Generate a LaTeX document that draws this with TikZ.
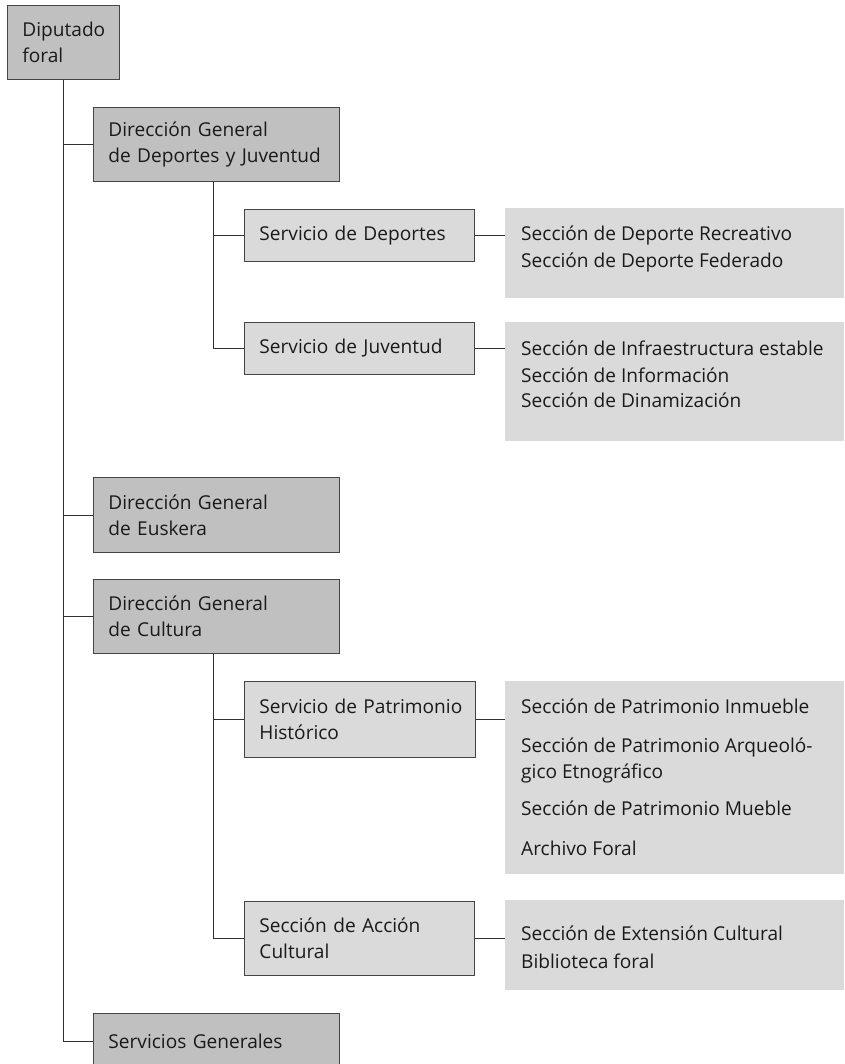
\documentclass[tikz,border=0pt]{standalone}
\usepackage{fontspec}
\setmainfont{Open Sans}
\definecolor{darkfill}{HTML}{C0C0C0}
\definecolor{lightfill}{HTML}{DADADA}
\definecolor{edge}{HTML}{454545}
\definecolor{wire}{HTML}{303030}
\definecolor{ink}{HTML}{1A1A1A}
\begin{document}
\begin{tikzpicture}[x=1pt,y=-1pt,
  font=\fontsize{19.1}{26}\selectfont,
  unit/.style={draw=edge, line width=0.9pt, anchor=north west, align=left,
    inner xsep=15pt, inner ysep=0pt, text=ink},
  dark/.style={unit, fill=darkfill},
  light/.style={unit, fill=lightfill},
  secbox/.style={fill=lightfill, draw=none, anchor=north west, inner sep=0pt},
  item/.style={anchor=base west, inner sep=0pt, text=ink, align=left},
  link/.style={draw=wire, line width=0.9pt}]
\useasboundingbox (0,0) rectangle (844,1064);

% top level
\node[dark, minimum width=112, minimum height=74, text width=82] (dip) at (7,5) {Diputado\\foral};

% direcciones generales
\node[dark, minimum width=246, minimum height=74, text width=216] (dgdep) at (93,107) {Dirección General\\de Deportes y Juventud};
\node[dark, minimum width=246, minimum height=75, text width=216] (dgeus) at (93,477) {Dirección General\\de Euskera};
\node[dark, minimum width=246, minimum height=74, text width=216] (dgcul) at (93,579) {Dirección General\\de Cultura};
\node[dark, minimum width=246, minimum height=56, text width=216] (sgen) at (93,1013) {Servicios Generales};

% servicios
\node[light, minimum width=230, minimum height=52, text width=200] (sdep) at (244,209) {Servicio de Deportes};
\node[light, minimum width=230, minimum height=52, text width=200] (sjuv) at (244,322) {Servicio de Juventud};
\node[light, minimum width=231, minimum height=76, text width=201] (spat) at (244,681) {\mbox{Servicio de Patrimonio}\\Histórico};
\node[light, minimum width=230, minimum height=74, text width=200] (sacc) at (244,901) {Sección de Acción\\Cultural};

% secciones
\node[secbox, minimum width=339, minimum height=90] (secdep) at (505,208) {};
\node[item] (d1) at (521,241) {Sección de Deporte Recreativo};
\node[item] (d2) at (521,268) {Sección de Deporte Federado};

\node[secbox, minimum width=339, minimum height=119] (secjuv) at (505,322) {};
\node[item] (j1) at (521,355) {Sección de Infraestructura estable};
\node[item] (j2) at (521,382) {Sección de Información};
\node[item] (j3) at (521,407) {Sección de Dinamización};

\node[secbox, minimum width=339, minimum height=193] (secpat) at (505,681) {};
\node[item] (p1) at (521,713) {Sección de Patrimonio Inmueble};
\node[item] (p2) at (521,778) {Sección de Patrimonio Arqueoló-\\gico Etnográfico};
\node[item] (p3) at (521,815) {Sección de Patrimonio Mueble};
\node[item] (p4) at (521,855) {Archivo Foral};

\node[secbox, minimum width=339, minimum height=90] (secacc) at (505,900) {};
\node[item] (a1) at (521,940) {Sección de Extensión Cultural};
\node[item] (a2) at (521,968) {Biblioteca foral};

% connectors
\coordinate (trunk) at (63,0);
\coordinate (branch) at (213,0);
\draw[link] (dip.south -| trunk) |- (sgen.west);
\draw[link] (trunk |- dgdep.west) -- (dgdep.west);
\draw[link] (trunk |- dgeus.west) -- (dgeus.west);
\draw[link] (trunk |- dgcul.west) -- (dgcul.west);

\draw[link] (dgdep.south -| branch) |- (sjuv.west);
\draw[link] (branch |- sdep.west) -- (sdep.west);
\draw[link] (dgcul.south -| branch) |- (sacc.west);
\draw[link] (branch |- spat.west) -- (spat.west);

\draw[link] (sdep.east) -- (sdep.east -| secdep.west);
\draw[link] (sjuv.east) -- (sjuv.east -| secjuv.west);
\draw[link] (spat.east) -- (spat.east -| secpat.west);
\draw[link] (sacc.east) -- (sacc.east -| secacc.west);
\end{tikzpicture}
\end{document}
